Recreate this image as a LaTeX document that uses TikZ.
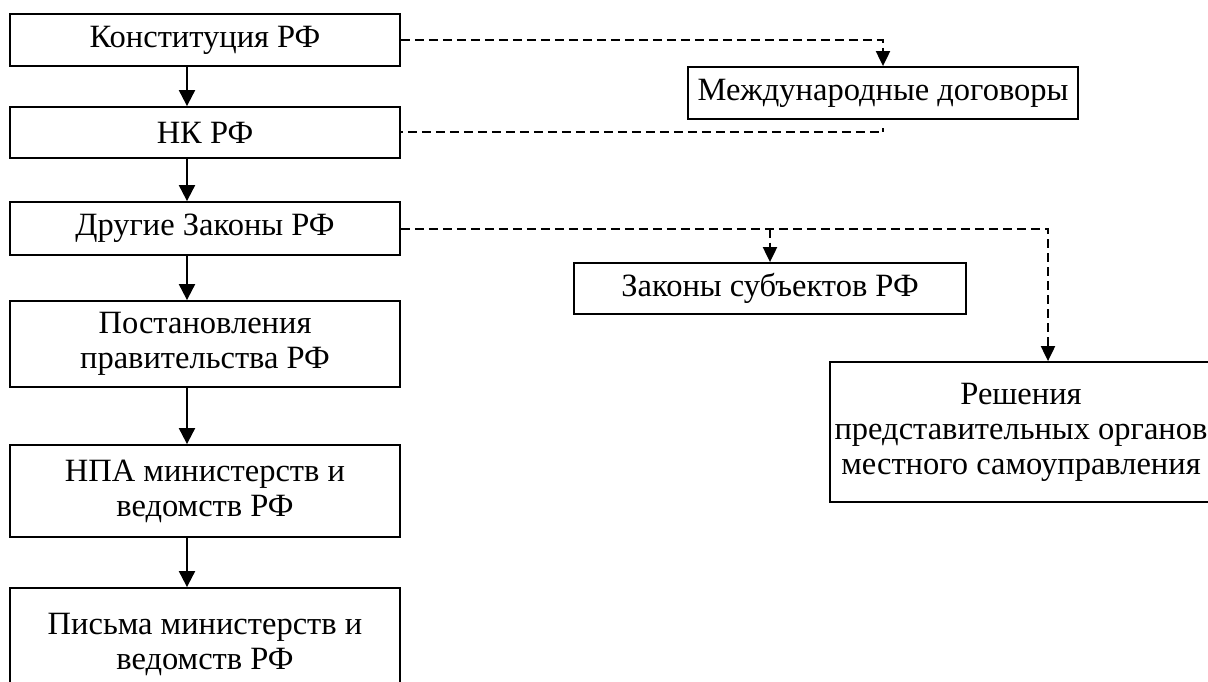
\documentclass[tikz,border=0pt]{standalone}
\usepackage{fontspec}
\setmainfont{Liberation Serif}
\usepackage{tikz}
\usetikzlibrary{positioning,arrows.meta,calc}

\tikzset{
  box/.style={draw,line width=1.8pt,inner sep=0pt,align=center,font=\fontsize{32.5}{35}\selectfont},
  arr/.style={line width=2pt,-{Triangle[length=16pt,width=16pt]}},
  dasharr/.style={line width=2pt,dash pattern=on 9pt off 5pt,-{Triangle[length=15pt,width=14pt]}},
  dashln/.style={line width=2pt,dash pattern=on 9pt off 5pt}
}

\begin{document}
\begin{tikzpicture}[x=1pt,y=-1pt]
    \useasboundingbox (0,0) rectangle (1208,682);
    % Left column
    \node[box,minimum width=390pt,minimum height=52pt] (konst) at (205,40) {Конституция РФ};
    \node[box,minimum width=390pt,minimum height=51pt] (nk) at (205,132.5) {НК РФ};
    \node[box,minimum width=390pt,minimum height=53pt] (drugie) at (205,228.5) {Другие Законы РФ};
    \node[box,minimum width=390pt,minimum height=86pt] (post) at (205,344) {Постановления\\правительства РФ};
    \node[box,minimum width=390pt,minimum height=92pt] (npa) at (205,491) {НПА министерств и\\ведомств РФ};
    \node[box,minimum width=390pt,minimum height=112pt] (pisma) at (205,644) {Письма министерств и\\ведомств РФ};
    \foreach \a/\b in {konst/nk,nk/drugie,drugie/post,post/npa,npa/pisma}
      \draw[arr] ([xshift=-18pt]\a.south) -- ([xshift=-18pt]\b.north);
    % Right side
    \node[box,minimum width=390pt,minimum height=52pt] (mezhd) at (883,93) {Международные договоры};
    \node[box,minimum width=392pt,minimum height=51pt] (subj) at (770,288.5) {Законы субъектов РФ};
    \node[box,minimum width=382pt,minimum height=140pt] (resh) at (1021,432) {Решения\\представительных органов\\местного самоуправления};
    \draw[dasharr] (konst.east) -| (mezhd.north);
    \draw[dashln,dash phase=7pt] (nk.east) -| ([yshift=-8pt]mezhd.south);
    \draw[dasharr] (drugie.east) -| ([xshift=27pt]resh.north);
    \draw[dasharr] (subj.north |- drugie.east) -- (subj.north);
\end{tikzpicture}
\end{document}
